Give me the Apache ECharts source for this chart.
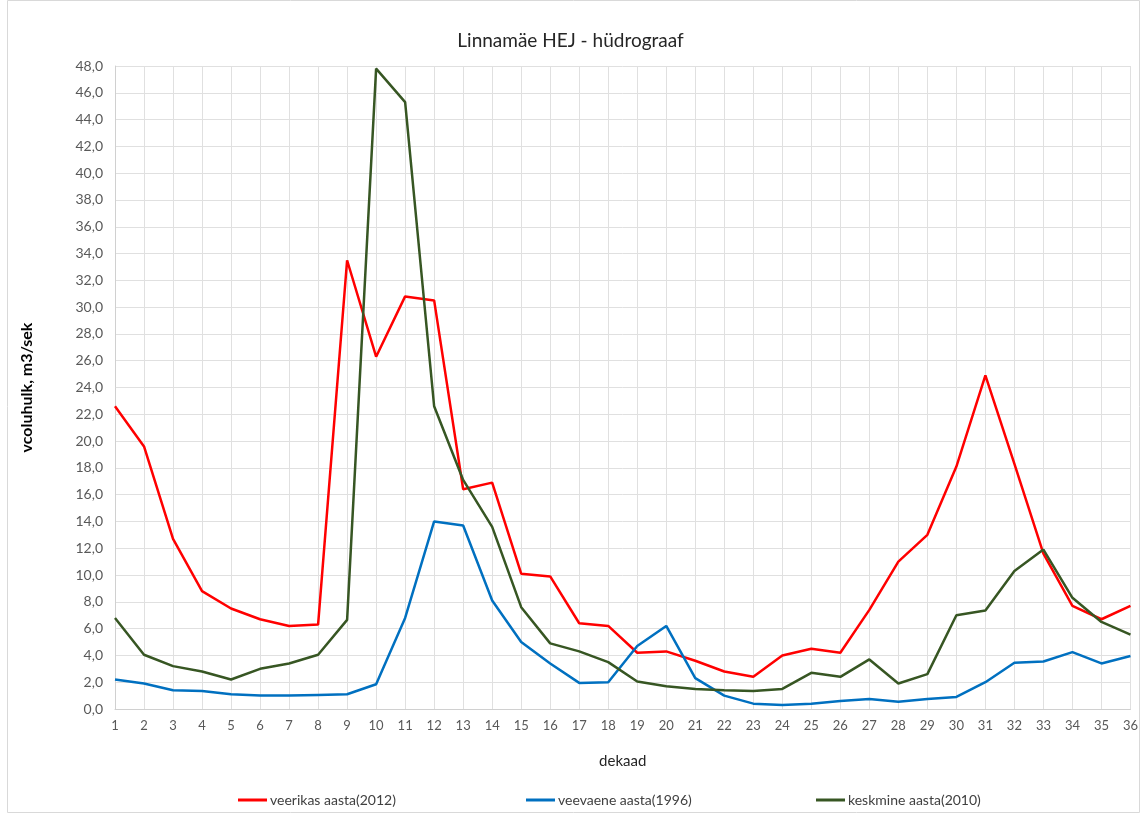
<!DOCTYPE html>
<html lang="et">
<head>
    <meta charset="UTF-8">
    <title>Linnamäe HEJ - hüdrograaf</title>
    <style>
        html, body { margin: 0; padding: 0; background: #fff; }
        #main { width: 1141px; height: 814px; }
    </style>
    <script src="https://cdn.jsdelivr.net/npm/echarts@6/dist/echarts.min.js"></script>
</head>
<body>
    <div id="main"></div>
    <script>
        var dekaad = [];
        for (var i = 1; i <= 36; i++) dekaad.push(String(i));

        var veerikas = [22.6, 19.6, 12.7, 8.8, 7.5, 6.7, 6.2, 6.3, 33.5, 26.3, 30.8, 30.5,
            16.4, 16.9, 10.1, 9.9, 6.4, 6.2, 4.2, 4.3, 3.6, 2.8, 2.4, 4.0,
            4.5, 4.2, 7.4, 11.0, 13.0, 18.1, 24.9, 18.3, 11.6, 7.7, 6.7, 7.7];
        var veevaene = [2.2, 1.9, 1.4, 1.35, 1.1, 1.0, 1.0, 1.05, 1.1, 1.85, 6.8, 14.0,
            13.7, 8.1, 5.0, 3.4, 1.95, 2.0, 4.7, 6.2, 2.3, 1.0, 0.4, 0.3,
            0.4, 0.6, 0.75, 0.55, 0.75, 0.9, 2.0, 3.45, 3.55, 4.25, 3.4, 3.95];
        var keskmine = [6.8, 4.05, 3.2, 2.8, 2.2, 3.0, 3.4, 4.05, 6.65, 47.8, 45.3, 22.6,
            17.1, 13.6, 7.6, 4.9, 4.3, 3.5, 2.05, 1.7, 1.5, 1.4, 1.35, 1.5,
            2.7, 2.4, 3.7, 1.9, 2.6, 7.0, 7.35, 10.3, 11.9, 8.3, 6.5, 5.55];

        var names = ['veerikas aasta(2012)', 'veevaene aasta(1996)', 'keskmine aasta(2010)'];
        var colors = ['#ff0000', '#0070c0', '#375623'];
        var legendLeft = [233, 521, 811];

        var font = 'Lato, "Open Sans", sans-serif';
        var myChart = echarts.init(document.getElementById('main'));

        var legends = names.map(function (n, k) {
            return {
                left: legendLeft[k],
                top: 788,
                itemWidth: 29,
                itemHeight: 3,
                itemGap: 0,
                icon: 'rect',
                textStyle: { fontFamily: font, fontSize: 14, color: '#404040', padding: [0, 0, 0, -2] },
                data: [n]
            };
        });

        var option = {
            animation: false,
            textStyle: { fontFamily: font },
            title: {
                text: 'Linnamäe HEJ - hüdrograaf',
                left: 'center',
                top: 26,
                textStyle: { fontFamily: font, fontSize: 19, fontWeight: 'normal', color: '#262626' }
            },
            graphic: [{
                type: 'rect',
                shape: { x: 7.5, y: 0.5, width: 1132, height: 812 },
                style: { fill: 'none', stroke: '#d9d9d9', lineWidth: 1 },
                silent: true
            }],
            legend: legends,
            grid: { left: 115, right: 10, top: 66, bottom: 105 },
            xAxis: {
                type: 'category',
                data: dekaad,
                boundaryGap: false,
                name: 'dekaad',
                nameLocation: 'middle',
                nameGap: 45,
                nameTextStyle: { fontFamily: font, fontSize: 15, color: '#262626' },
                axisLine: { lineStyle: { color: '#d0d0d0' } },
                axisTick: { show: false },
                axisLabel: { color: '#595959', fontSize: 13, margin: 10, interval: 0 },
                splitLine: { show: true, lineStyle: { color: '#e0e0e0' } }
            },
            yAxis: {
                type: 'value',
                min: 0,
                max: 48,
                interval: 2,
                name: 'vcoluhulk, m3/sek',
                nameLocation: 'middle',
                nameGap: 80,
                nameRotate: 90,
                nameTextStyle: { fontFamily: font, fontSize: 16, fontWeight: 'bold', color: '#000' },
                axisLine: { show: true, lineStyle: { color: '#d0d0d0' } },
                axisTick: { show: false },
                axisLabel: {
                    color: '#595959',
                    fontSize: 14,
                    margin: 12,
                    formatter: function (v) { return v.toFixed(1).replace('.', ','); }
                },
                splitLine: { lineStyle: { color: '#e0e0e0' } }
            },
            series: names.map(function (n, k) {
                return {
                    name: n,
                    type: 'line',
                    data: [veerikas, veevaene, keskmine][k],
                    symbol: 'none',
                    color: colors[k],
                    lineStyle: { width: 2.5 }
                };
            })
        };
        myChart.setOption(option);
    </script>
</body>
</html>
